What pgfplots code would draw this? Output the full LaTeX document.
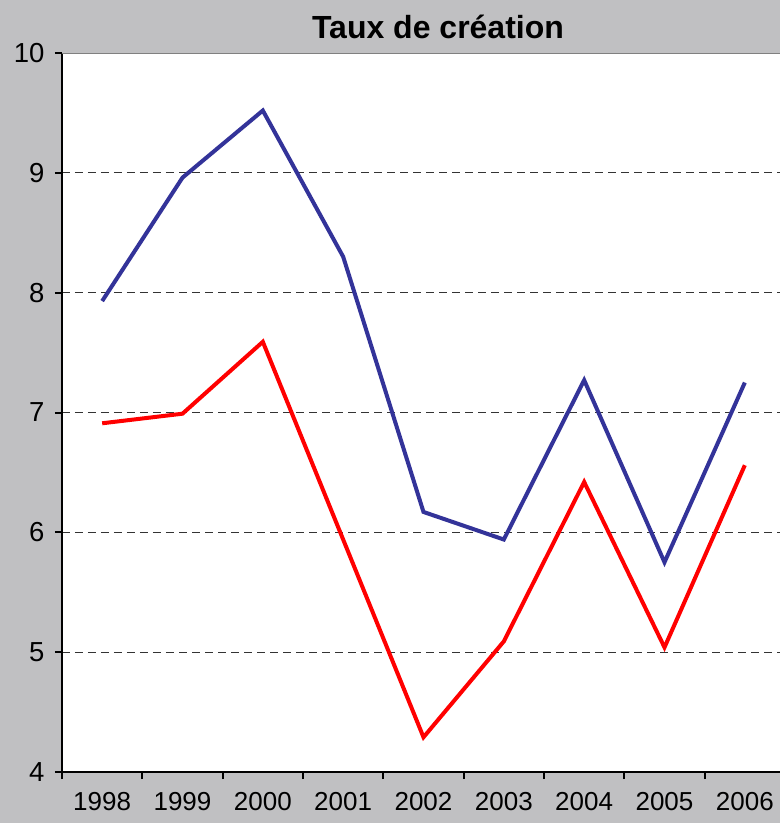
\documentclass[border=0pt]{standalone}
\usepackage{fontspec}
\setmainfont{Liberation Sans}
\usepackage{pgfplots}
\pgfplotsset{compat=1.18}
\definecolor{fond}{RGB}{192,192,194}
\definecolor{bleu}{RGB}{51,51,153}
\begin{document}
\begin{tikzpicture}[x=1pt,y=1pt]
\useasboundingbox (0,0) rectangle (780,823);
\clip (0,0) rectangle (780,823);
\fill[fond] (0,0) rectangle (780,823);
\node[font=\bfseries\fontsize{32}{32}\selectfont] at (438,796) {Taux de création};
\begin{axis}[
	at={(62pt,51pt)}, anchor=south west,
	width=723pt, height=719pt, scale only axis,
	axis background/.style={fill=white},
	xmin=-0.5, xmax=8.5, ymin=4, ymax=10,
	axis x line*=bottom, axis y line*=left,
	axis line style={-, line width=2.5pt, black},
	xtick={0,1,2,3,4,5,6,7,8},
	xticklabels={1998,1999,2000,2001,2002,2003,2004,2005,2006},
	major x tick style={draw=none},
	minor xtick={-0.5,0.5,1.5,2.5,3.5,4.5,5.5,6.5,7.5,8.5},
	minor x tick style={line width=2pt, black},
	ytick={5,6,7,8,9},
	extra y ticks={4,10},
	extra y tick style={grid=none},
	y tick style={line width=2pt, black},
	tick align=outside,
	major tick length=7pt, minor tick length=7pt,
	ymajorgrids,
	grid style={black!80, line width=1.2pt, dash pattern=on 8pt off 5pt},
	/pgf/number format/assume math mode=true,
	xticklabel style={font=\fontsize{26}{26}\selectfont, yshift=-10pt},
	yticklabel style={font=\fontsize{27.5}{27.5}\selectfont, xshift=-7pt},
]
\addplot[bleu, line width=4pt] coordinates {
	(0,7.93) (1,8.96) (2,9.52) (3,8.30) (4,6.17) (5,5.94) (6,7.27) (7,5.75) (8,7.25)
};
\addplot[red, line width=4pt] coordinates {
	(0,6.91) (1,6.99) (2,7.59) (3,5.94) (4,4.29) (5,5.09) (6,6.42) (7,5.04) (8,6.56)
};
\draw[gray, line width=2pt] (rel axis cs:0,1) -- (rel axis cs:1,1);
\end{axis}
\end{tikzpicture}
\end{document}
